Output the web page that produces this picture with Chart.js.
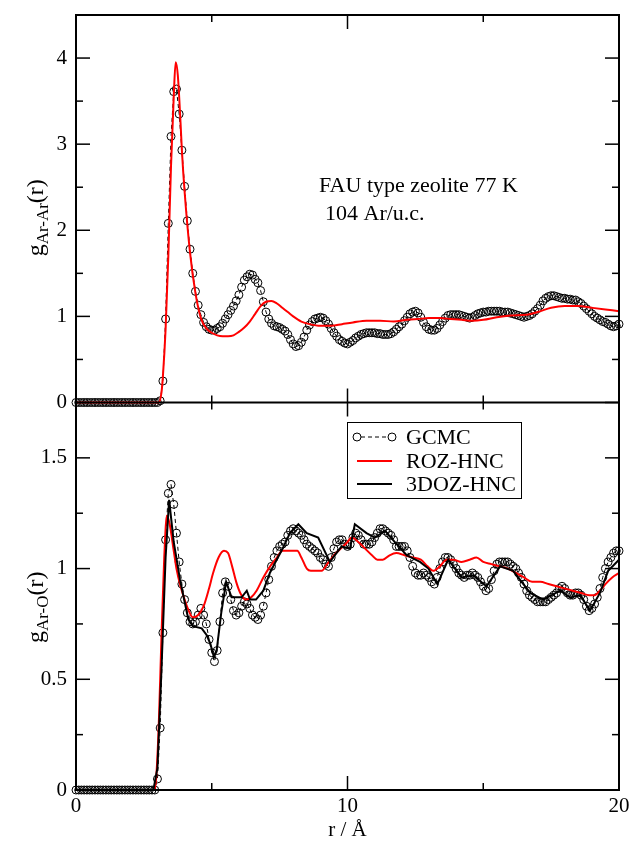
<!DOCTYPE html>
<html>
<head>
<meta charset="utf-8">
<script src="https://cdn.jsdelivr.net/npm/chart.js@4.4.1/dist/chart.umd.min.js"></script>
<style>
  html, body { margin: 0; padding: 0; background: #fff; }
  #wrap { width: 630px; height: 844px; }
</style>
</head>
<body>
<div id="wrap"><canvas id="rdf" width="630" height="844"></canvas></div>
<script>
// GCMC points are on a uniform r grid, 0 .. 20 A
const R_STEP = 0.1;

const gcmcArAr = [
  0, 0, 0, 0, 0, 0, 0, 0, 0, 0,
  0, 0, 0, 0, 0, 0, 0, 0, 0, 0,
  0, 0, 0, 0, 0, 0, 0, 0, 0, 0,
  0, 0.02, 0.25, 0.97, 2.08, 3.09, 3.61, 3.64, 3.35, 2.93,
  2.51, 2.11, 1.78, 1.50, 1.29, 1.13, 1.02, 0.93, 0.88, 0.85,
  0.84, 0.84, 0.86, 0.88, 0.92, 0.97, 1.02, 1.07, 1.12, 1.18,
  1.25, 1.34, 1.42, 1.46, 1.49, 1.48, 1.43, 1.39, 1.30, 1.17,
  1.05, 0.97, 0.92, 0.89, 0.88, 0.87, 0.85, 0.83, 0.79, 0.73,
  0.68, 0.65, 0.66, 0.70, 0.76, 0.84, 0.90, 0.94, 0.97, 0.98,
  0.99, 0.98, 0.95, 0.91, 0.86, 0.81, 0.77, 0.73, 0.71, 0.69,
  0.68, 0.70, 0.72, 0.75, 0.77, 0.79, 0.80, 0.81, 0.81, 0.81,
  0.81, 0.80, 0.80, 0.79, 0.79, 0.79, 0.80, 0.82, 0.85, 0.88,
  0.91, 0.95, 0.99, 1.03, 1.05, 1.06, 1.04, 0.99, 0.93, 0.88,
  0.85, 0.84, 0.84, 0.86, 0.90, 0.94, 0.98, 1.01, 1.02, 1.02,
  1.02, 1.02, 1.01, 1.00, 0.99, 0.98, 0.99, 1.01, 1.03, 1.04,
  1.05, 1.05, 1.06, 1.06, 1.06, 1.06, 1.06, 1.05, 1.05, 1.05,
  1.04, 1.03, 1.02, 1.01, 1.00, 0.99, 1.00, 1.01, 1.03, 1.06,
  1.09, 1.13, 1.18, 1.21, 1.23, 1.24, 1.24, 1.23, 1.22, 1.21,
  1.21, 1.20, 1.20, 1.19, 1.19, 1.17, 1.15, 1.12, 1.09, 1.06,
  1.03, 1.00, 0.98, 0.96, 0.94, 0.93, 0.91, 0.89, 0.88, 0.89,
  0.91
];

const gcmcArO = [
  0, 0, 0, 0, 0, 0, 0, 0, 0, 0,
  0, 0, 0, 0, 0, 0, 0, 0, 0, 0,
  0, 0, 0, 0, 0, 0, 0, 0, 0, 0,
  0.05, 0.28, 0.71, 1.13, 1.34, 1.38, 1.29, 1.16, 1.03, 0.93,
  0.86, 0.80, 0.76, 0.75, 0.76, 0.79, 0.82, 0.79, 0.75, 0.68,
  0.62, 0.58, 0.63, 0.76, 0.89, 0.94, 0.92, 0.86, 0.81, 0.79,
  0.80, 0.83, 0.85, 0.84, 0.82, 0.79, 0.78, 0.77, 0.79, 0.83,
  0.89, 0.95, 1.01, 1.05, 1.08, 1.10, 1.11, 1.12, 1.15, 1.17,
  1.18, 1.17, 1.16, 1.15, 1.13, 1.11, 1.10, 1.09, 1.08, 1.07,
  1.05, 1.04, 1.02, 1.01, 1.05, 1.09, 1.12, 1.13, 1.13, 1.11,
  1.10, 1.11, 1.14, 1.16, 1.15, 1.13, 1.11, 1.11, 1.11, 1.12,
  1.14, 1.16, 1.18, 1.18, 1.17, 1.16, 1.15, 1.13, 1.10, 1.10,
  1.10, 1.10, 1.08, 1.05, 1.01, 0.98, 0.97, 0.97, 0.98, 0.97,
  0.96, 0.94, 0.93, 0.96, 1.00, 1.03, 1.05, 1.05, 1.04, 1.02,
  1.00, 0.98, 0.97, 0.96, 0.97, 0.97, 0.98, 0.97, 0.96, 0.94,
  0.92, 0.90, 0.91, 0.95, 0.99, 1.02, 1.03, 1.03, 1.03, 1.03,
  1.02, 1.01, 1.00, 0.98, 0.96, 0.93, 0.90, 0.88, 0.87, 0.86,
  0.85, 0.85, 0.85, 0.85, 0.86, 0.87, 0.88, 0.89, 0.91, 0.92,
  0.91, 0.89, 0.88, 0.88, 0.89, 0.89, 0.88, 0.86, 0.83, 0.81,
  0.82, 0.84, 0.87, 0.91, 0.96, 1.00, 1.03, 1.05, 1.07, 1.08,
  1.08
];

// ROZ-HNC, Ar-Ar
const rozArArR = [0, 1, 2, 2.9, 3.05, 3.15, 3.2, 3.3, 3.4, 3.5, 3.6, 3.67, 3.75, 3.85, 3.9, 4.0, 4.2, 4.4, 4.6, 4.8,
  5.0, 5.2, 5.4, 5.6, 5.8, 6.0, 6.2, 6.4, 6.6, 6.8, 7.0, 7.2, 7.4, 7.6, 7.8, 8.0, 8.3, 8.6, 9.0, 9.4,
  9.8, 10.2, 10.7, 11.2, 11.7, 12.2, 12.6, 13.0, 13.4, 13.8, 14.2, 14.6, 15.0, 15.5, 16.0, 16.6, 17.0, 17.5, 18.0, 18.5,
  19.0, 19.5, 20.0];
const rozArArG = [0, 0, 0, 0, 0, 0.12, 0.3, 0.85, 1.7, 2.75, 3.55, 3.95, 3.8, 3.25, 2.93, 2.45, 1.74, 1.27, 0.98, 0.86,
  0.81, 0.78, 0.77, 0.77, 0.78, 0.82, 0.87, 0.94, 1.03, 1.12, 1.17, 1.18, 1.15, 1.10, 1.05, 1.00, 0.94, 0.91, 0.89, 0.89,
  0.91, 0.93, 0.95, 0.95, 0.94, 0.96, 0.97, 0.98, 0.98, 0.97, 0.96, 0.95, 0.96, 0.99, 1.01, 1.02, 1.05, 1.10, 1.12, 1.12,
  1.10, 1.08, 1.06];

// ROZ-HNC, Ar-O
const rozArOR = [0, 2.85, 2.95, 3.05, 3.15, 3.25, 3.35, 3.45, 3.6, 3.7, 3.85, 4.0, 4.15, 4.3, 4.5, 4.7, 4.9, 5.05, 5.25, 5.45,
  5.6, 5.75, 5.9, 6.05, 6.25, 6.45, 6.65, 6.9, 7.15, 7.4, 7.6, 7.9, 8.15, 8.3, 8.5, 8.65, 8.85, 9.05, 9.25, 9.5,
  9.75, 10.0, 10.15, 10.4, 10.65, 10.9, 11.1, 11.3, 11.55, 11.8, 12.1, 12.4, 12.7, 12.95, 13.15, 13.4, 13.65, 13.9, 14.2, 14.5,
  14.75, 15.0, 15.3, 15.6, 15.9, 16.2, 16.5, 16.8, 17.1, 17.4, 17.7, 18.0, 18.3, 18.6, 18.9, 19.1, 19.3, 19.5, 19.75, 20.0];
const rozArOG = [0, 0, 0.05, 0.3, 0.7, 1.05, 1.24, 1.2, 1.08, 1.0, 0.92, 0.86, 0.81, 0.78, 0.79, 0.83, 0.91, 0.98, 1.05, 1.08,
  1.07, 1.01, 0.94, 0.89, 0.86, 0.87, 0.90, 0.96, 1.01, 1.05, 1.08, 1.08, 1.08, 1.05, 1.00, 0.99, 0.99, 0.99, 1.02, 1.06,
  1.09, 1.12, 1.14, 1.12, 1.09, 1.06, 1.04, 1.04, 1.06, 1.07, 1.06, 1.05, 1.04, 1.01, 0.99, 1.01, 1.04, 1.04, 1.03, 1.04,
  1.05, 1.03, 1.02, 1.01, 1.00, 0.98, 0.96, 0.94, 0.94, 0.93, 0.92, 0.91, 0.90, 0.89, 0.88, 0.88, 0.90, 0.93, 0.96, 0.98];

// 3DOZ-HNC, Ar-O
const ozArOR = [0, 2.85, 3.0, 3.15, 3.3, 3.43, 3.6, 3.83, 4.0, 4.14, 4.3, 4.63, 4.81, 4.95, 5.08, 5.18, 5.35, 5.53, 5.73, 6.1,
  6.29, 6.41, 6.63, 6.9, 7.14, 7.39, 7.57, 7.88, 8.19, 8.5, 8.92, 9.35, 9.78, 10.09, 10.27, 10.7, 11.01, 11.38, 11.81, 12.18,
  12.67, 12.98, 13.31, 13.71, 14.2, 14.63, 15.12, 15.62, 16.1, 16.73, 17.21, 17.83, 18.2, 18.57, 18.93, 19.3, 19.6, 20.0];
const ozArOG = [0, 0, 0.1, 0.55, 1.05, 1.31, 1.12, 0.95, 0.85, 0.77, 0.74, 0.73, 0.70, 0.66, 0.60, 0.63, 0.80, 0.94, 0.87, 0.87,
  0.90, 0.86, 0.86, 0.90, 0.98, 1.04, 1.08, 1.16, 1.20, 1.16, 1.14, 1.03, 1.10, 1.09, 1.20, 1.16, 1.14, 1.17, 1.11, 1.06,
  1.03, 1.00, 0.93, 1.04, 0.96, 0.97, 0.92, 1.01, 0.99, 0.89, 0.86, 0.90, 0.87, 0.88, 0.81, 0.89, 0.99, 1.04];

const seriesNames = ['GCMC', 'ROZ-HNC', '3DOZ-HNC'];

// tick positions
const xMajor = [0, 10, 20];
const xMinor = [5, 15];
const yArArMajor = [0, 1, 2, 3, 4];
const yArArMinor = [0.5, 1.5, 2.5, 3.5];
const yArOMajor = [0, 0.5, 1, 1.5];
const yArOMinor = [0.25, 0.75, 1.25];

const FONT = '"Liberation Serif", "Times New Roman", serif';

const pts = (xs, ys) => ys.map((v, i) => ({ x: xs[i], y: v }));
const grid = gcmcArAr.map((_, i) => +(i * R_STEP).toFixed(1));

function gcmcSet(vals, axis) {
    return {
        label: seriesNames[0],
        data: pts(grid, vals),
        yAxisID: axis,
        borderColor: '#000',
        borderWidth: 1,
        borderDash: [4, 3],
        pointRadius: 4,
        pointBorderWidth: 1,
        pointBorderColor: '#000',
        pointBackgroundColor: 'rgba(0,0,0,0)',
        clip: false,
        order: 3
    };
}

function curveSet(label, data, axis, color, smooth) {
    return {
        label: label,
        data: data,
        yAxisID: axis,
        borderColor: color,
        borderWidth: 2,
        pointRadius: 0,
        cubicInterpolationMode: smooth ? 'monotone' : 'default',
        tension: 0,
        clip: false,
        order: color === '#000' ? 1 : 2
    };
}

function drawRich(ctx, cx, cy, parts) {
    ctx.save();
    ctx.translate(cx, cy);
    ctx.rotate(-Math.PI / 2);
    let total = 0;
    parts.forEach(p => {
        ctx.font = p.size + 'px ' + FONT;
        p.w = ctx.measureText(p.t).width;
        total += p.w;
    });
    let x = -total / 2;
    ctx.textAlign = 'left';
    ctx.textBaseline = 'alphabetic';
    ctx.fillStyle = '#000';
    parts.forEach(p => {
        ctx.font = p.size + 'px ' + FONT;
        ctx.fillText(p.t, x, p.dy);
        x += p.w;
    });
    ctx.restore();
}

const decor = {
    id: 'decor',
    afterDatasetsDraw(chart) {
        const { ctx, chartArea: a, scales } = chart;
        const xs = scales.x, yt = scales.yTop, yb = scales.yBot;
        ctx.save();
        ctx.strokeStyle = '#000';
        ctx.lineWidth = 2;
        ctx.strokeRect(a.left, a.top, a.right - a.left, a.bottom - a.top);
        ctx.beginPath();
        ctx.moveTo(a.left, yt.bottom);
        ctx.lineTo(a.right, yt.bottom);
        ctx.stroke();

        ctx.lineWidth = 1.5;
        const seg = (x1, y1, x2, y2) => {
            ctx.beginPath(); ctx.moveTo(x1, y1); ctx.lineTo(x2, y2); ctx.stroke();
        };
        const panels = [
            [yt, yArArMajor, yArArMinor],
            [yb, yArOMajor, yArOMinor]
        ];
        panels.forEach(([ys, maj, min]) => {
            [[maj, 14], [min, 7]].forEach(([vals, len]) => {
                vals.forEach(v => {
                    const py = ys.getPixelForValue(v);
                    seg(a.left, py, a.left + len, py);
                    seg(a.right, py, a.right - len, py);
                });
            });
            [[xMajor, 14], [xMinor, 7]].forEach(([vals, len]) => {
                vals.forEach(v => {
                    const px = xs.getPixelForValue(v);
                    seg(px, ys.top, px, ys.top + len);
                    seg(px, ys.bottom, px, ys.bottom - len);
                });
            });
        });
        ctx.restore();
    },
    afterDraw(chart) {
        const { ctx, scales } = chart;
        const yt = scales.yTop, yb = scales.yBot;
        ctx.save();
        ctx.fillStyle = '#000';
        ctx.font = '22px ' + FONT;
        ctx.textBaseline = 'alphabetic';
        ctx.fillText('FAU type zeolite 77 K', 319, 192);
        ctx.fillText('104 Ar/u.c.', 325, 220);

        drawRich(ctx, 43, (yt.top + yt.bottom) / 2 + 9, [
            { t: 'g', size: 24, dy: 0 },
            { t: 'Ar-Ar', size: 17, dy: 5 },
            { t: '(r)', size: 24, dy: 0 }
        ]);
        drawRich(ctx, 43, (yb.top + yb.bottom) / 2 + 11, [
            { t: 'g', size: 24, dy: 0 },
            { t: 'Ar-O', size: 17, dy: 5 },
            { t: '(r)', size: 24, dy: 0 }
        ]);

        // legend
        const bx = 347, by = 422, bw = 174, bh = 76;
        ctx.fillStyle = '#fff';
        ctx.fillRect(bx, by, bw, bh);
        ctx.strokeStyle = '#000';
        ctx.lineWidth = 1;
        ctx.strokeRect(bx + 0.5, by + 0.5, bw, bh);
        const rows = [437, 461, 484];
        const x1 = 357, x2 = 392;
        // GCMC sample
        ctx.setLineDash([4, 3]);
        ctx.beginPath(); ctx.moveTo(x1 + 4, rows[0]); ctx.lineTo(x2 - 4, rows[0]); ctx.stroke();
        ctx.setLineDash([]);
        [x1, x2].forEach(cx => {
            ctx.beginPath(); ctx.arc(cx, rows[0], 4, 0, Math.PI * 2); ctx.stroke();
        });
        ctx.lineWidth = 2;
        ctx.strokeStyle = '#ff0000';
        ctx.beginPath(); ctx.moveTo(x1, rows[1]); ctx.lineTo(x2, rows[1]); ctx.stroke();
        ctx.strokeStyle = '#000';
        ctx.beginPath(); ctx.moveTo(x1, rows[2]); ctx.lineTo(x2, rows[2]); ctx.stroke();
        ctx.fillStyle = '#000';
        ctx.font = '22px ' + FONT;
        ctx.textBaseline = 'middle';
        seriesNames.forEach((n, i) => ctx.fillText(n, 406, rows[i] + 1));
        ctx.restore();
    }
};

const tickFont = { family: FONT, size: 21 };
const plainNum = v => String(v);

// y scales: no extra label padding so the panels meet the frame exactly
const fixY = s => { s.width = 76; s.paddingTop = 0; s.paddingBottom = 0; };

new Chart(document.getElementById('rdf'), {
    type: 'line',
    plugins: [decor],
    data: {
        datasets: [
            gcmcSet(gcmcArAr, 'yTop'),
            curveSet(seriesNames[1], pts(rozArArR, rozArArG), 'yTop', '#ff0000', true),
            gcmcSet(gcmcArO, 'yBot'),
            curveSet(seriesNames[1], pts(rozArOR, rozArOG), 'yBot', '#ff0000', true),
            curveSet(seriesNames[2], pts(ozArOR, ozArOG), 'yBot', '#000', false)
        ]
    },
    options: {
        responsive: false,
        animation: false,
        layout: { padding: { top: 15, right: 11, left: 0, bottom: 0 } },
        plugins: {
            legend: { display: false },
            tooltip: { enabled: false }
        },
        scales: {
            x: {
                type: 'linear',
                position: 'bottom',
                min: 0,
                max: 20,
                ticks: { stepSize: 10, font: tickFont, color: '#000', padding: 4, maxRotation: 0, callback: plainNum },
                grid: { display: false, drawTicks: false },
                border: { display: false },
                title: { display: true, text: 'r / Å', font: tickFont, color: '#000', padding: { top: 0, bottom: 1 } },
                afterFit: s => { s.height = 54; s.paddingLeft = 0; s.paddingRight = 0; }
            },
            yBot: {
                axis: 'y',
                type: 'linear',
                position: 'left',
                stack: 'panels',
                stackWeight: 1,
                min: 0,
                max: 1.75,
                ticks: { stepSize: 0.5, includeBounds: false, font: tickFont, color: '#000', padding: 9, callback: plainNum },
                grid: { display: false, drawTicks: false },
                border: { display: false },
                afterFit: fixY
            },
            yTop: {
                axis: 'y',
                type: 'linear',
                position: 'left',
                stack: 'panels',
                stackWeight: 1,
                min: 0,
                max: 4.5,
                ticks: { stepSize: 1, includeBounds: false, font: tickFont, color: '#000', padding: 9, callback: plainNum },
                grid: { display: false, drawTicks: false },
                border: { display: false },
                afterFit: fixY
            }
        }
    }
});
</script>
</body>
</html>
